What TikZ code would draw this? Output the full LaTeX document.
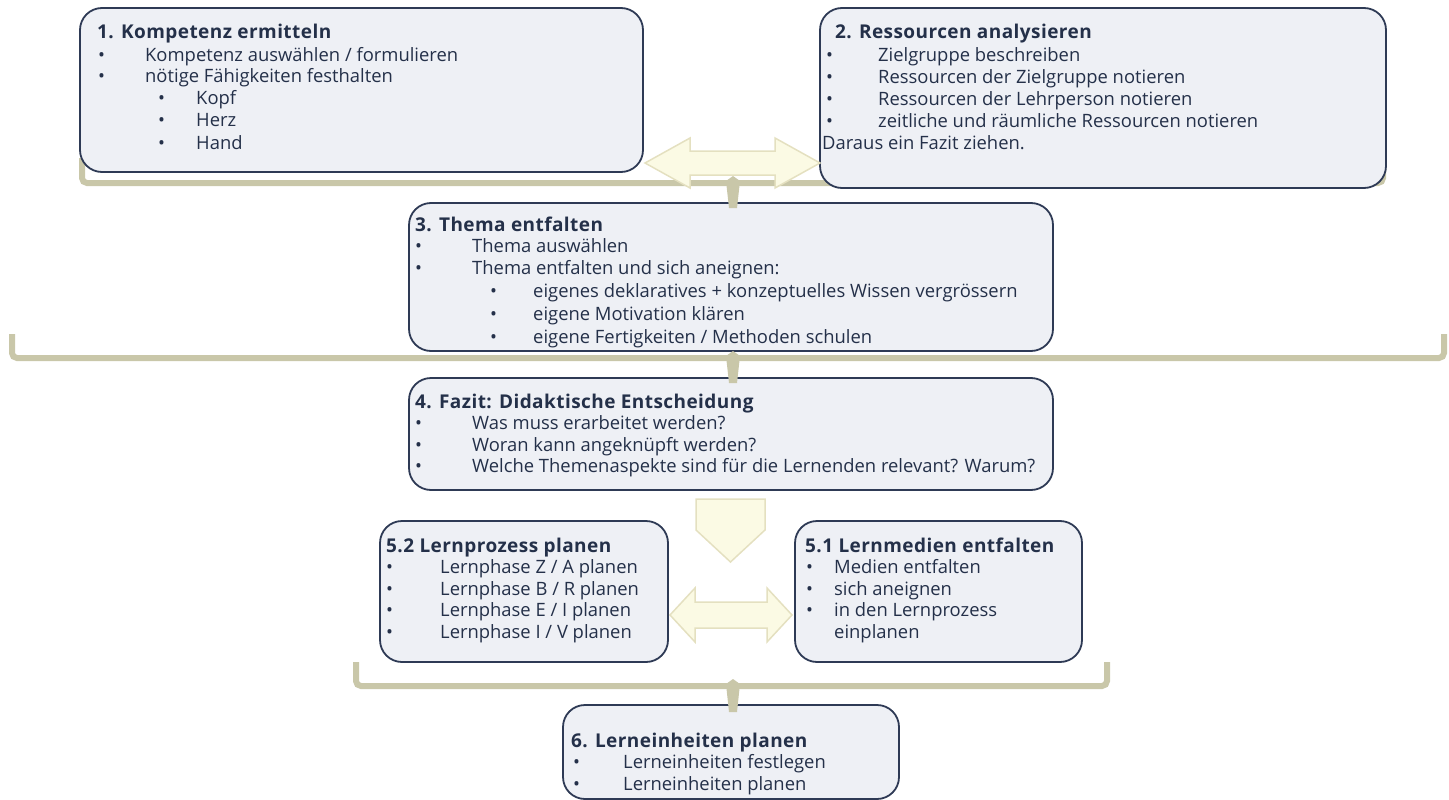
\documentclass[tikz,border=0pt]{standalone}
\usepackage{fontspec}
\setmainfont{Open Sans}
\newfontfamily\ttlfont[LetterSpace=2.3]{Open Sans}
\definecolor{boxfill}{HTML}{EEF0F5}
\definecolor{boxline}{HTML}{2E3A55}
\definecolor{textcol}{HTML}{243049}
\definecolor{brk}{HTML}{C9C7A9}
\definecolor{arrfill}{HTML}{FBFAE4}
\definecolor{arrline}{HTML}{E4E0C0}
\newcommand\bitem[5]{%
  \node[txt] (#1-b) at (#2,#4+6.5) {•};
  \node[txt] (#1) at (#3,#4+6.5) {#5};}
\begin{document}
\begin{tikzpicture}[x=1pt,y=-1pt,
  box/.style={draw=boxline, fill=boxfill, line width=1.8pt, rounded corners=22pt, inner sep=0pt},
  txt/.style={anchor=base west, inner sep=0pt, font=\fontsize{18.4}{22}\selectfont, text=textcol},
  ttl/.style={txt, font=\ttlfont\fontsize{19}{22}\selectfont\bfseries},
  bracket/.style={draw=brk, line width=6pt, rounded corners=5pt, line cap=butt},
  notch/.style={fill=brk, draw=none},
  fatarrow/.style={fill=arrfill, draw=arrline, line width=1.5pt, line join=miter}]
\useasboundingbox (0,0) rectangle (1449,800);

% lower boxes drawn first (brackets overlap their tops)
\node[box, minimum width=644pt, minimum height=148pt] (b3) at (731,277) {};
\node[box, minimum width=644pt, minimum height=112pt] (b4) at (731,434) {};
\node[box, minimum width=336pt, minimum height=94pt] (b6) at (731,752) {};

% brackets
\coordinate (k1l) at (82,158); \coordinate (k1r) at (1383,158);
\draw[bracket] (k1l) -- (82,183) -- (1383,183) -- (k1r);
\fill[notch] (726,181) -- (733,176) -- (740,181) -- (737,208) -- (729,208) -- cycle;
\coordinate (k2l) at (12,334); \coordinate (k2r) at (1444,334);
\draw[bracket] (k2l) -- (12,358) -- (1444,358) -- (k2r);
\fill[notch] (726,356) -- (733,351) -- (740,356) -- (737,383) -- (729,383) -- cycle;
\coordinate (k3l) at (356,662); \coordinate (k3r) at (1107,662);
\draw[bracket] (k3l) -- (356,686) -- (1107,686) -- (k3r);
\fill[notch] (726,684) -- (733,679) -- (740,684) -- (737,712) -- (729,712) -- cycle;

% upper boxes
\node[box, minimum width=563pt, minimum height=164pt] (b1) at (361.5,90) {};
\node[box, minimum width=566pt, minimum height=180pt] (b2) at (1103,98) {};
\node[box, minimum width=288pt, minimum height=141pt] (b52) at (524,591.5) {};
\node[box, minimum width=287pt, minimum height=141pt] (b51) at (938.5,591.5) {};

% arrows
\draw[fatarrow] (645,163) -- (690,138) -- (690,151) -- (775,151) -- (775,138) -- (820,163)
  -- (775,188) -- (775,175) -- (690,175) -- (690,188) -- cycle;
\draw[fatarrow] (670,615) -- (695,588) -- (695,602) -- (767,602) -- (767,588) -- (792,615)
  -- (767,642) -- (767,628) -- (695,628) -- (695,642) -- cycle;
\draw[fatarrow] (696,499) -- (765,499) -- (765,530) -- (730.5,562) -- (696,530) -- cycle;

% box 1 text
\node[ttl] (t1) at (97,38.5) {1. Kompetenz ermitteln};
\bitem{l11}{98}{145}{55}{Kompetenz auswählen / formulieren}
\bitem{l12}{98}{145}{76}{nötige Fähigkeiten festhalten}
\bitem{l13}{158}{196}{98}{Kopf}
\bitem{l14}{158}{196}{120}{Herz}
\bitem{l15}{158}{196}{143}{Hand}

% box 2 text
\node[ttl] (t2) at (835,38.5) {2. Ressourcen analysieren};
\bitem{l21}{826}{878}{55}{Zielgruppe beschreiben}
\bitem{l22}{826}{878}{77}{Ressourcen der Zielgruppe notieren}
\bitem{l23}{826}{878}{99}{Ressourcen der Lehrperson notieren}
\bitem{l24}{826}{878}{121}{zeitliche und räumliche Ressourcen notieren}
\node[txt] (l25) at (822,149.5) {Daraus ein Fazit ziehen.};

% box 3 text
\node[ttl] (t3) at (415,231.5) {3. Thema entfalten};
\bitem{l31}{415}{472}{246}{Thema auswählen}
\bitem{l32}{415}{472}{268}{Thema entfalten und sich aneignen:}
\bitem{l33}{490}{533}{291}{eigenes deklaratives + konzeptuelles Wissen vergrössern}
\bitem{l34}{490}{533}{314}{eigene Motivation klären}
\bitem{l35}{490}{533}{337}{eigene Fertigkeiten / Methoden schulen}

% box 4 text
\node[ttl] (t4) at (415,408.5) {4. Fazit: Didaktische Entscheidung};
\bitem{l41}{415}{472}{423}{Was muss erarbeitet werden?}
\bitem{l42}{415}{472}{445}{Woran kann angeknüpft werden?}
\bitem{l43}{415}{472}{466}{Welche Themenaspekte sind für die Lernenden relevant? Warum?}

% box 5.2 text
\node[ttl] (t52) at (386,552.5) {5.2 Lernprozess planen};
\bitem{l521}{386}{440}{567}{Lernphase Z / A planen}
\bitem{l522}{386}{440}{589}{Lernphase B / R planen}
\bitem{l523}{386}{440}{610}{Lernphase E / I planen}
\bitem{l524}{386}{440}{632}{Lernphase I / V planen}

% box 5.1 text
\node[ttl] (t51) at (805,552.5) {5.1 Lernmedien entfalten};
\bitem{l511}{806}{834}{567}{Medien entfalten}
\bitem{l512}{806}{834}{589}{sich aneignen}
\bitem{l513}{806}{834}{610}{in den Lernprozess}
\node[txt] (l514) at (834,638.5) {einplanen};

% box 6 text
\node[ttl] (t6) at (571,747.5) {6. Lerneinheiten planen};
\bitem{l61}{573}{623}{762}{Lerneinheiten festlegen}
\bitem{l62}{573}{623}{784}{Lerneinheiten planen}
\end{tikzpicture}
\end{document}
